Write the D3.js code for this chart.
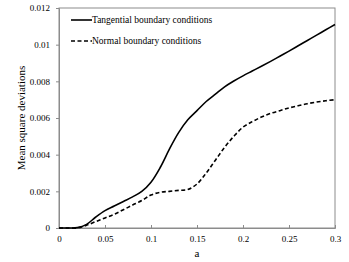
<!DOCTYPE html>
<meta charset="utf-8">
<style>
    body { margin: 0; background: #fff; }
    svg, svg text { font-family: "Liberation Serif", "Times New Roman", "DejaVu Serif", serif !important; }
</style>
<script src="https://d3js.org/d3.v7.min.js"></script>
<div id="chart"></div>
<script>
    var aValues = [0, 0.01, 0.02, 0.03, 0.04, 0.05, 0.06, 0.07, 0.08, 0.09, 0.1,
        0.11, 0.12, 0.13, 0.14, 0.15, 0.16, 0.17, 0.18, 0.19, 0.2,
        0.21, 0.22, 0.23, 0.24, 0.25, 0.26, 0.27, 0.28, 0.29, 0.3];
    var tangential = [0, 0, 0.00002, 0.0002, 0.0006, 0.00095, 0.0012, 0.00145, 0.0017, 0.002, 0.0025,
        0.0033, 0.0043, 0.0052, 0.0059, 0.0064, 0.0069, 0.0073, 0.0077, 0.00802, 0.0083,
        0.00856, 0.00882, 0.00909, 0.00937, 0.00965, 0.00994, 0.01023, 0.01052, 0.01081, 0.0111];
    var normal = [0, 0, 0, 0.00015, 0.00035, 0.00055, 0.00075, 0.001, 0.00125, 0.0015, 0.0018,
        0.00195, 0.002, 0.00205, 0.0021, 0.0024, 0.003, 0.0037, 0.0044, 0.005, 0.0055,
        0.0058, 0.00605, 0.00625, 0.0064, 0.00655, 0.00667, 0.00678, 0.00687, 0.00694, 0.007];
    var xTicks = [0, 0.05, 0.1, 0.15, 0.2, 0.25, 0.3];
    var yTicks = [0, 0.002, 0.004, 0.006, 0.008, 0.01, 0.012];
    var seriesNames = ["Tangential boundary conditions", "Normal boundary conditions"];

    var W = 349, H = 262;
    var margin = {top: 8, right: 14, bottom: 34, left: 59},
        width = W - margin.left - margin.right,
        height = H - margin.top - margin.bottom;
    var serif = "'Liberation Serif', 'Times New Roman', serif";

    var svg = d3.select("#chart").append("svg")
        .attr("width", W)
        .attr("height", H)
        .attr("font-family", serif);
    var g = svg.append("g")
        .attr("transform", "translate(" + margin.left + "," + margin.top + ")");

    var x = d3.scaleLinear().domain([0, 0.3]).range([0, width]);
    var y = d3.scaleLinear().domain([0, 0.012]).range([height, 0]);

    // frame
    g.append("rect")
        .attr("width", width)
        .attr("height", height)
        .attr("fill", "none")
        .attr("stroke", "#8c8c8c")
        .attr("stroke-width", 1);

    var fmt = function(d) { return d === 0 ? "0" : d3.format("~g")(d); };
    var xAxis = g.append("g")
        .attr("transform", "translate(0," + height + ")")
        .call(d3.axisBottom(x).tickValues(xTicks).tickSize(-3).tickPadding(8).tickFormat(fmt));
    var yAxis = g.append("g")
        .call(d3.axisLeft(y).tickValues(yTicks).tickSize(3).tickPadding(6).tickFormat(fmt));

    [xAxis, yAxis].forEach(function(ax) {
        ax.attr("font-family", serif).attr("font-size", 9);
        ax.select(".domain").attr("stroke", "#8c8c8c");
        ax.selectAll(".tick line").attr("stroke", "#8c8c8c");
        ax.selectAll(".tick text").attr("fill", "#000");
    });

    g.append("text")
        .attr("x", width / 2)
        .attr("y", height + 29)
        .attr("text-anchor", "middle")
        .style("font-size", "11px")
        .text("a");

    g.append("text")
        .attr("transform", "translate(" + (22 - margin.left) + "," + (height / 2) + ") rotate(-90)")
        .attr("text-anchor", "middle")
        .attr("dominant-baseline", "middle")
        .style("font-size", "11px")
        .text("Mean square deviations");

    var line = d3.line()
        .x(function(d) { return x(d[0]); })
        .y(function(d) { return y(d[1]); })
        .curve(d3.curveCatmullRom.alpha(0.5));

    var series = [
        {name: seriesNames[0], values: d3.zip(aValues, tangential), dash: null},
        {name: seriesNames[1], values: d3.zip(aValues, normal), dash: "4,2.5"}
    ];

    g.selectAll(".series")
        .data(series)
        .enter()
        .append("path")
        .attr("class", "series")
        .attr("d", function(d) { return line(d.values); })
        .attr("fill", "none")
        .attr("stroke", "#000")
        .attr("stroke-width", 1.6)
        .attr("stroke-dasharray", function(d) { return d.dash; });

    // legend
    var legend = g.selectAll(".legend")
        .data(series)
        .enter()
        .append("g")
        .attr("class", "legend")
        .attr("transform", function(d, i) { return "translate(12," + (12 + i * 21) + ")"; });
    legend.append("line")
        .attr("x1", 0).attr("x2", 21)
        .attr("stroke", "#000")
        .attr("stroke-width", 1.6)
        .attr("stroke-dasharray", function(d) { return d.dash; });
    legend.append("text")
        .attr("x", 21)
        .attr("dy", "0.35em")
        .style("font-size", "9.5px")
        .text(function(d) { return d.name; });
</script>
